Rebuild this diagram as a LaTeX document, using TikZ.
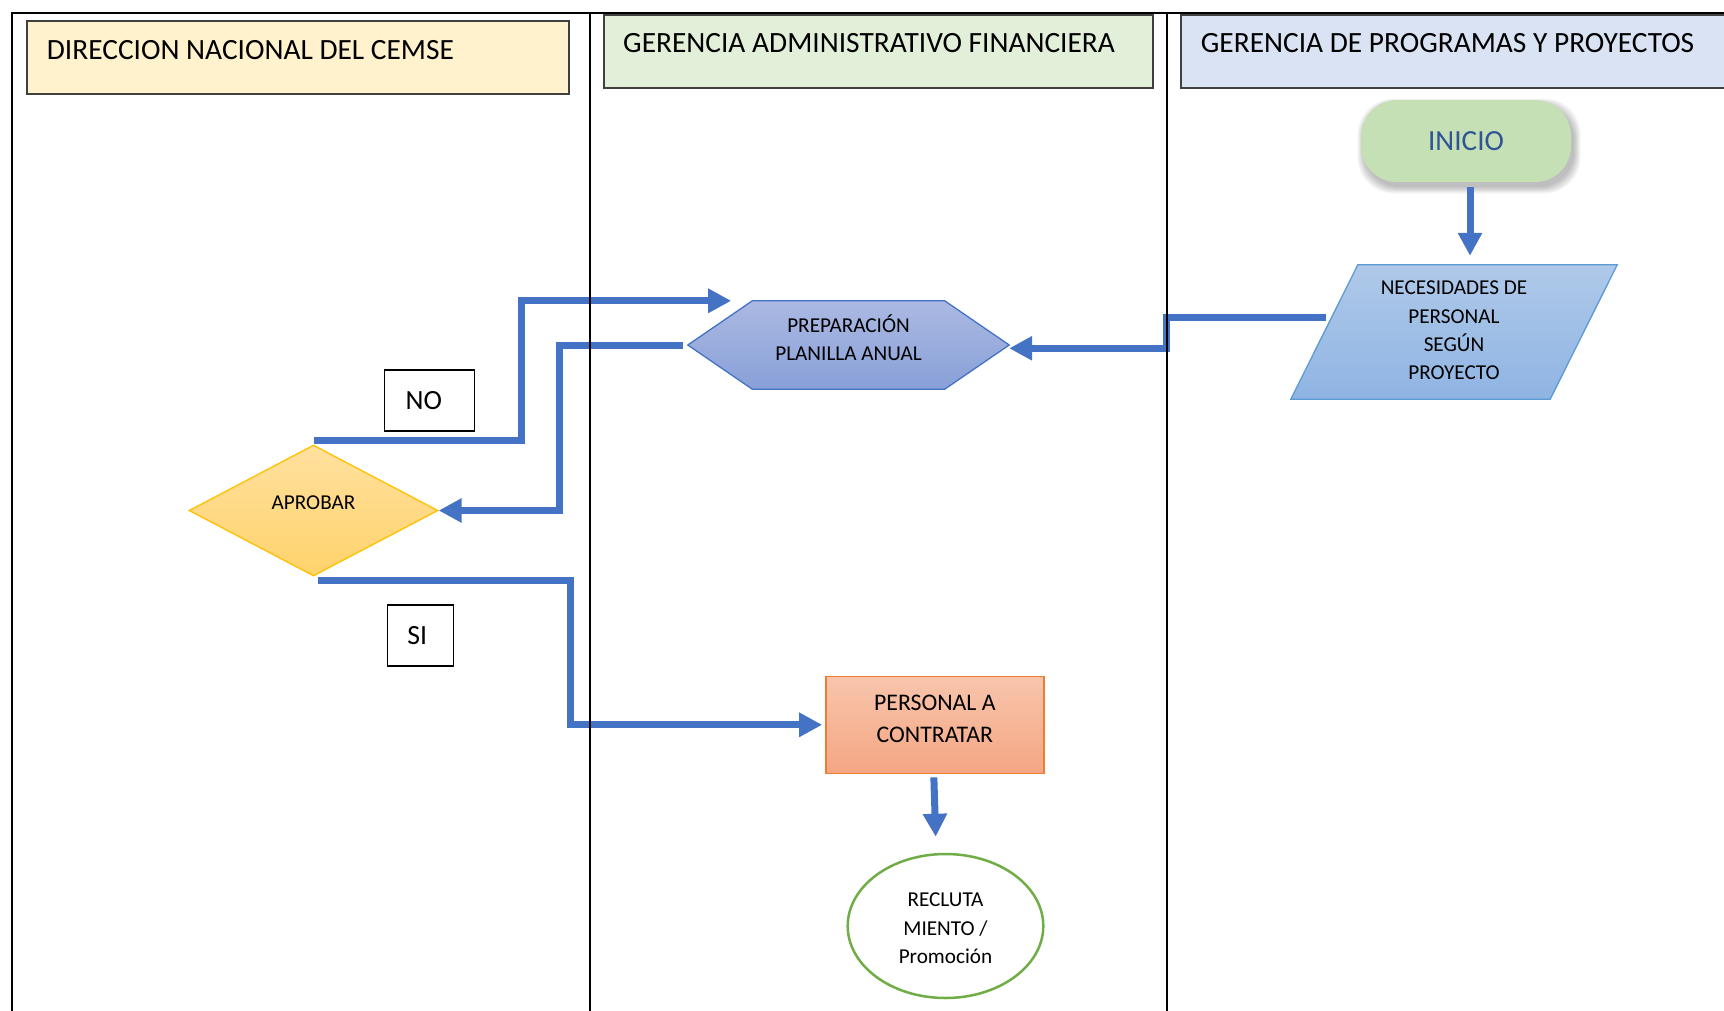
\documentclass[tikz,border=0pt]{standalone}
\usepackage{fontspec}
\setmainfont{Carlito}
\usetikzlibrary{arrows.meta,shapes.geometric,calc}
\pgfdeclarelayer{background}
\pgfsetlayers{background,main}

\definecolor{hdrY}{HTML}{FFF2CC}
\definecolor{hdrG}{HTML}{E2F0D9}
\definecolor{hdrB}{HTML}{DAE3F3}
\definecolor{iniFill}{HTML}{C5E0B4}
\definecolor{iniText}{HTML}{2F5597}
\definecolor{necTop}{HTML}{AFC9E9}
\definecolor{necBot}{HTML}{8FB4E3}
\definecolor{necLine}{HTML}{5B9BD5}
\definecolor{prepTop}{HTML}{ABB9E2}
\definecolor{prepBot}{HTML}{88A0D8}
\definecolor{prepLine}{HTML}{4472C4}
\definecolor{aprTop}{HTML}{FFE09E}
\definecolor{aprBot}{HTML}{FFD36C}
\definecolor{aprLine}{HTML}{FFC000}
\definecolor{perTop}{HTML}{F8C5AC}
\definecolor{perBot}{HTML}{F4A683}
\definecolor{perLine}{HTML}{ED7D31}
\definecolor{recLine}{HTML}{70AD47}
\definecolor{arrowblue}{HTML}{4472C4}

\begin{document}
\begin{tikzpicture}[x=1pt,y=-1pt,
  lane/.style={line width=2pt, black, line cap=rect},
  header/.style={draw=black!75, line width=1.2pt, inner sep=0pt},
  hdrtext/.style={font=\fontsize{29.4pt}{35pt}\selectfont, inner sep=0pt, anchor=base west},
  terminal/.style={rectangle, rounded corners=36pt, fill=iniFill, text=iniText,
    minimum width=210pt, minimum height=82pt, inner sep=0pt,
    font=\fontsize{29.2pt}{35pt}\selectfont},
  body/.style={font=\fontsize{21.2pt}{28.3pt}\selectfont, align=center, inner sep=0pt},
  bigbody/.style={font=\fontsize{23.8pt}{31.6pt}\selectfont, align=center, inner sep=0pt},
  choice/.style={draw=black, line width=1.3pt, fill=white, inner sep=0pt,
    minimum height=61pt, font=\fontsize{27.8pt}{33pt}\selectfont},
  flow/.style={draw=arrowblue, line width=7pt, -{Triangle[length=23pt,width=23pt]}}
]
\useasboundingbox (0,0) rectangle (1724,1010);

% lane headers
\node[header, fill=hdrY, minimum width=542pt, minimum height=73pt] (dir) at (298,57.5) {};
\node[hdrtext] (dir-t) at (46.7,59.5) {DIRECCION NACIONAL DEL CEMSE};
\node[header, fill=hdrG, minimum width=549pt, minimum height=73pt] (gaf) at (878.5,51.5) {};
\node[hdrtext] (gaf-t) at (623,52.5) {GERENCIA ADMINISTRATIVO FINANCIERA};
\node[header, fill=hdrB, minimum width=559pt, minimum height=73pt] (gpp) at (1460.5,51.5) {};
\node[hdrtext] (gpp-t) at (1200.7,52.5) {GERENCIA DE PROGRAMAS Y PROYECTOS};

% process steps
\node[terminal] (ini) at (1466,141) {INICIO};

\node[inner sep=0pt, minimum width=326pt, minimum height=134pt,
  label={[body, name=nec-t, yshift=1.5pt]center:NECESIDADES DE\\PERSONAL\\SEGÚN\\PROYECTO}]
  (nec) at (1454,332) {};

\node[inner sep=0pt, minimum width=321pt, minimum height=88pt,
  label={[body, name=prep-t, yshift=7.5pt]center:PREPARACIÓN\\PLANILLA ANUAL}]
  (prep) at (848.5,345) {};

\node[diamond, draw=aprLine, line width=1.3pt, top color=aprTop, bottom color=aprBot,
  minimum width=249pt, minimum height=131pt, inner sep=0pt,
  label={[body, name=apr-t, yshift=7.5pt]center:APROBAR}]
  (apr) at (313.5,510.5) {};

\node[rectangle, draw=perLine, line width=1.3pt, top color=perTop, bottom color=perBot,
  minimum width=218pt, minimum height=97pt, inner sep=0pt,
  label={[bigbody, name=per-t, yshift=5.8pt]center:PERSONAL A\\CONTRATAR}]
  (per) at (934.85,724.8) {};

\node[ellipse, draw=recLine, line width=2.5pt, fill=white,
  minimum width=195.6pt, minimum height=144pt, inner sep=0pt,
  label={[body, name=rec-t, yshift=-2.2pt]center:RECLUTA\\MIENTO /\\Promoción}]
  (rec) at (945.5,926) {};

\node[choice, minimum width=90pt] (no) at (429.3,400.5) {NO\kern11pt};
\node[choice, minimum width=66pt] (si) at (420.2,635.4) {SI\kern6pt};

% shape outlines and the soft shadow, behind the texts
\begin{pgfonlayer}{background}
  \foreach \e in {0,1,...,7}{
    \fill[black, opacity=0.035, rounded corners=36pt]
      ([shift={(3pt-\e*0.9pt,-5pt-\e*0.9pt)}]ini.south west) rectangle
      ([shift={(3pt+\e*0.9pt,-5pt+\e*0.9pt)}]ini.north east);
  }
  \path[draw=necLine, line width=1.3pt, top color=necTop, bottom color=necBot]
    ([xshift=67pt]nec.north west) -- (nec.north east) --
    ([xshift=-67pt]nec.south east) -- (nec.south west) -- cycle;
  \path[draw=prepLine, line width=1.3pt, top color=prepTop, bottom color=prepBot]
    (prep.west) -- ([xshift=64.5pt]prep.north west) -- ([xshift=-64.5pt]prep.north east) --
    (prep.east) -- ([xshift=-64.5pt]prep.south east) -- ([xshift=64.5pt]prep.south west) -- cycle;
\end{pgfonlayer}

% connectors
\draw[flow, shorten <=5pt, shorten >=9pt] ([xshift=4pt]ini.south) -- ([xshift=4pt]ini.south |- nec.north);
\draw[flow] ([shift={(35pt,14.7pt)}]nec.west) -- ++(-159.5,0) |- ([yshift=-3.3pt]prep.east);
\draw[flow] ([xshift=-5pt]prep.west) -- ++(-123,0) |- (apr.east);
\draw[flow] ([yshift=4pt]apr.north) -- ++(208.2,0) |- ([xshift=43.4pt]prep.north west);
\draw[flow] ([shift={(4pt,-4.3pt)}]apr.south) -- ++(253.4,0) |- ([xshift=-3pt]per.west);
\draw[flow] ([shift={(-1pt,-3.4pt)}]per.south) -- ([shift={(-9.8pt,16pt)}]rec.north);

% lane frame
\draw[lane] (12,13) -- (1730,13);
\draw[lane] (12,13) -- (12,1015);
\draw[lane] (590,13) -- (590,1015);
\draw[lane] (1167,13) -- (1167,1015);
\end{tikzpicture}
\end{document}
